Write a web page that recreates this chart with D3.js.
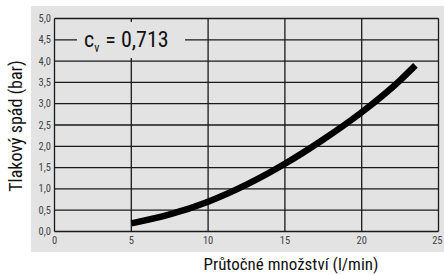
<!DOCTYPE html>
<html><head><meta charset="utf-8">
<script src="https://cdn.jsdelivr.net/npm/d3@7"></script>
<style>
body{margin:0;background:#fff;}
text{font-family:"Liberation Sans Narrow","Roboto Condensed","Arial Narrow",sans-serif;}
</style></head>
<body><svg id="c" width="444" height="275"></svg>
<script>
const flow = [5, 7.5, 10, 12.5, 15, 17.5, 20, 22.5, 23.5];
const pressure = [0.19, 0.4, 0.7, 1.1, 1.59, 2.16, 2.8, 3.55, 3.9];
const xTicks = [0, 5, 10, 15, 20, 25];
const yTicks = [0, 0.5, 1, 1.5, 2, 2.5, 3, 3.5, 4, 4.5, 5];
const label = "0,713";

const svg = d3.select("#c");
const x = d3.scaleLinear().domain([0, 25]).range([54.5, 438.5]);
const y = d3.scaleLinear().domain([0, 5]).range([231.5, 18.5]);
const fmt = d => d3.format(".1f")(d).replace(".", ",");

svg.append("rect").attr("x", 31).attr("y", 6).attr("width", 413).attr("height", 246).attr("fill", "#e3e3e3");

// horizontal grid
svg.append("g").selectAll("line").data(yTicks).join("line")
  .attr("x1", x(0)).attr("x2", x(25)).attr("y1", d => y(d)).attr("y2", d => y(d))
  .attr("stroke", "#1a1a1a").attr("stroke-width", 1.3);
// vertical grid
svg.append("g").selectAll("line").data(xTicks).join("line")
  .attr("x1", d => x(d)).attr("x2", d => x(d)).attr("y1", y(0)).attr("y2", y(5))
  .attr("stroke", "#1a1a1a").attr("stroke-width", 1.3);

// y tick labels
svg.append("g").selectAll("text").data(yTicks).join("text")
  .attr("x", 51).attr("y", d => y(d) + 3.5).attr("text-anchor", "end")
  .attr("font-size", 10.5).attr("fill", "#444").text(fmt);
// x tick labels
svg.append("g").selectAll("text").data(xTicks).join("text")
  .attr("x", d => x(d)).attr("y", 244).attr("text-anchor", d => d === 25 ? "end" : "middle")
  .attr("dx", d => d === 25 ? 4 : 0)
  .attr("font-size", 10.5).attr("fill", "#444").text(d => d);

// label box
svg.append("rect").attr("x", 77).attr("y", 22).attr("width", 108).attr("height", 36).attr("fill", "#e3e3e3");
const t = svg.append("text").attr("x", 84).attr("y", 47).attr("font-size", 22).attr("fill", "#111");
t.append("tspan").text("c");
t.append("tspan").attr("font-size", 12).attr("dy", 5).text("v");
t.append("tspan").attr("dy", -5).attr("dx", 6).text("= " + label);

// curve
const line = d3.line().x((d, i) => x(flow[i])).y(d => y(d)).curve(d3.curveMonotoneX);
svg.append("path").attr("d", line(pressure)).attr("fill", "none")
  .attr("stroke", "#000").attr("stroke-width", 6.5);

// axis titles
svg.append("text").attr("transform", "translate(22,126) rotate(-90)").attr("text-anchor", "middle")
  .attr("font-size", 18).attr("fill", "#111").text("Tlakový spád (bar)");
svg.append("text").attr("x", 291).attr("y", 270).attr("text-anchor", "middle")
  .attr("font-size", 17).attr("fill", "#111").text("Průtočné množství (l/min)");
</script></body></html>
